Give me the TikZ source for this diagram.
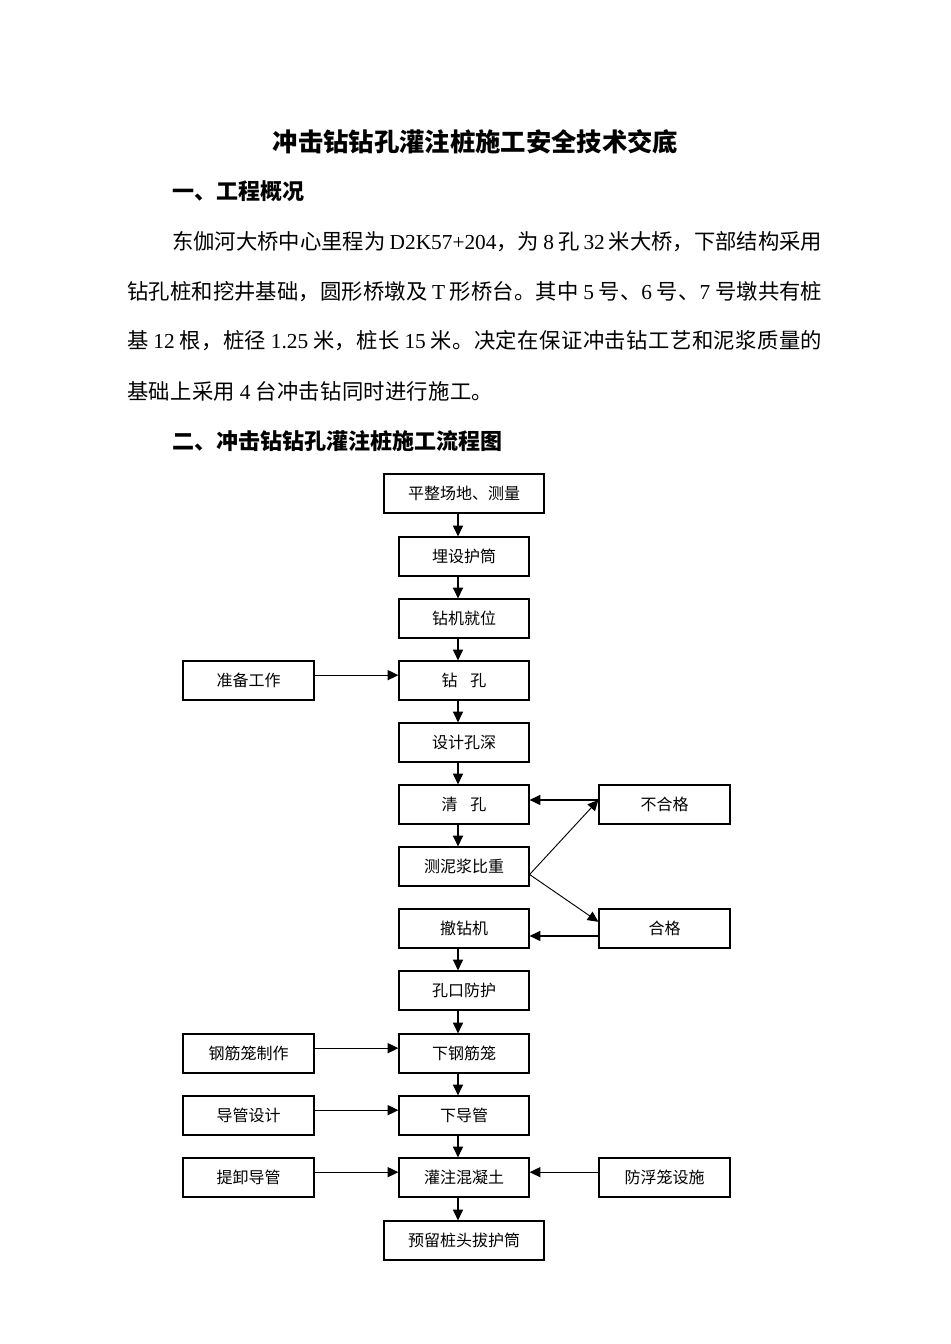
\documentclass[tikz,border=0pt]{standalone}
\usepackage{fontspec}
\setmainfont{Noto Sans CJK SC}
\newfontfamily\latin{Liberation Serif}
\usetikzlibrary{arrows.meta}
\newcount\cjkcc
\cjkcc="4E00
\loop \XeTeXcharclass\cjkcc=1 \advance\cjkcc by 1 \ifnum\cjkcc<"A000 \repeat
\XeTeXcharclass"FF0C=1
\XeTeXcharclass"3002=1
\XeTeXcharclass"3001=1
\XeTeXinterchartokenstate=1
\XeTeXinterchartoks 1 1 = {\hskip 0pt plus 1fil\relax}
\tikzset{
  box/.style={draw, line width=0.9pt, minimum width=97.5pt, minimum height=29.25pt, inner sep=0pt, font=\fontsize{12}{12}\selectfont},
  wbox/.style={box, minimum width=120pt},
  sbox/.style={box, minimum width=98.25pt},
  arr/.style={line width=0.8pt, -{Triangle[length=8pt,width=7.5pt]}},
  thin arr/.style={line width=0.7pt, -{Triangle[length=8pt,width=7.5pt]}},
  body/.style={anchor=west, inner sep=0pt, font=\fontsize{16}{17}\selectfont},
  head/.style={anchor=west, inner sep=0pt, font=\fontsize{16.5}{17}\selectfont\bfseries},
  title/.style={anchor=center, inner sep=0pt, font=\fontsize{19}{20}\selectfont\bfseries},
}
\begin{document}
\begin{tikzpicture}[x=0.75pt,y=-0.75pt]
\useasboundingbox (0,0) rectangle (950,1344);
% texts
\node[title] (t) at (475.5,142) {冲击钻钻孔灌注桩施工安全技术交底};
\node[head] (h1) at (172,191) {一、工程概况};
\node[body] (p1) at (172,242) {\hbox to 487.5pt{东伽河大桥中心里程为 {\latin D2K57+204}，为 {\latin 8} 孔 {\latin 32} 米大桥，下部结构采用}};
\node[body] (p2) at (127,292) {\hbox to 521.25pt{钻孔桩和挖井基础，圆形桥墩及 {\latin T} 形桥台。其中 {\latin 5} 号、{\latin 6} 号、{\latin 7} 号墩共有桩}};
\node[body] (p3) at (127,341) {\hbox to 521.25pt{基 {\latin 12} 根，桩径 {\latin 1.25} 米，桩长 {\latin 15} 米。决定在保证冲击钻工艺和泥浆质量的}};
\node[body] (p4) at (127,391) {\hbox to 274.5pt{基础上采用 {\latin 4} 台冲击钻同时进行施工。}};
\node[head] (h2) at (172,441) {二、冲击钻钻孔灌注桩施工流程图};
% main column
\node[wbox] (n1) at (464,493.5) {平整场地、测量};
\node[box] (n2) at (464,556.5) {埋设护筒};
\node[box] (n3) at (464,618.5) {钻机就位};
\node[box] (n4) at (464,680.5) {钻\hspace{0.8em}孔};
\node[box] (n5) at (464,742.5) {设计孔深};
\node[box] (n6) at (464,804.5) {清\hspace{0.8em}孔};
\node[box] (n7) at (464,866.5) {测泥浆比重};
\node[box] (n8) at (464,928.5) {撤钻机};
\node[box] (n9) at (464,990.5) {孔口防护};
\node[box] (n10) at (464,1053.5) {下钢筋笼};
\node[box] (n11) at (464,1115.5) {下导管};
\node[box] (n12) at (464,1177.5) {灌注混凝土};
\node[wbox] (n13) at (464,1240.5) {预留桩头拔护筒};
% side boxes
\node[sbox] (l1) at (248.5,680.5) {准备工作};
\node[sbox] (l2) at (248.5,1053.5) {钢筋笼制作};
\node[sbox] (l3) at (248.5,1115.5) {导管设计};
\node[sbox] (l4) at (248.5,1177.5) {提卸导管};
\node[sbox] (r1) at (664.5,804.5) {不合格};
\node[sbox] (r2) at (664.5,928.5) {合格};
\node[sbox] (r3) at (664.5,1177.5) {防浮笼设施};
% vertical arrows
\foreach \a/\b in {n1/n2,n2/n3,n3/n4,n4/n5,n5/n6,n6/n7,n8/n9,n9/n10,n10/n11,n11/n12,n12/n13}
  \draw[arr] ([xshift=-4.5pt]\a.south) -- ([xshift=-4.5pt]\b.north);
% horizontal arrows from left
\foreach \a/\b in {l1/n4,l2/n10,l3/n11,l4/n12}
  \draw[arr] ([yshift=4pt]\a.east) -- ([yshift=4pt]\b.west);
\draw[arr] ([yshift=4pt]r3.west) -- ([yshift=4pt]n12.east);
% feedback loop
\coordinate (m) at ([yshift=-6pt]n7.east);
\draw[thin arr] (m) -- ([yshift=3.4pt]r1.west);
\draw[thin arr] (m) -- ([yshift=5pt]r2.west);
\draw[arr] ([yshift=3.4pt]r1.west) -- ([yshift=3.4pt]n6.east);
\draw[arr] ([yshift=-5.6pt]r2.west) -- ([yshift=-5.6pt]n8.east);
\end{tikzpicture}
\end{document}
